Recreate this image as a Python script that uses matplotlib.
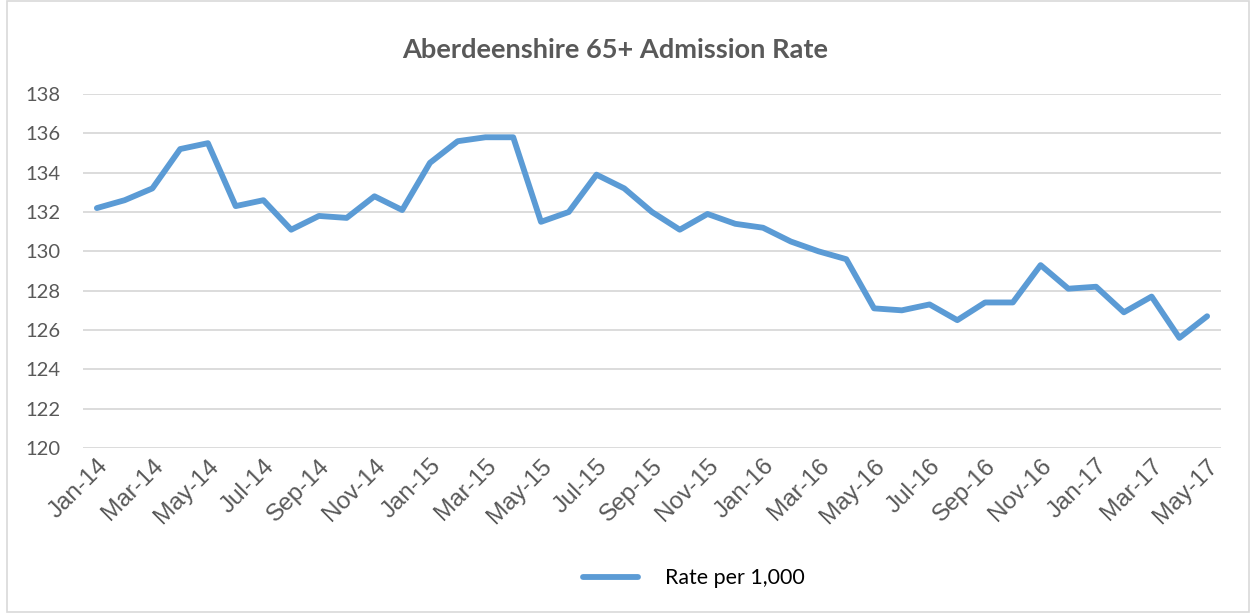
import matplotlib.pyplot as plt
from matplotlib.patches import Rectangle

# monthly admission rate, Jan-14 .. May-17
months = ["Jan", "Feb", "Mar", "Apr", "May", "Jun", "Jul", "Aug", "Sep", "Oct", "Nov", "Dec"]
labels = [f"{m}-{y}" for y in ["14", "15", "16", "17"] for m in months][:41]
rate = [132.2, 132.6, 133.2, 135.2, 135.5, 132.3, 132.6, 131.1, 131.8, 131.7, 132.8, 132.1,
        134.5, 135.6, 135.8, 135.8, 131.5, 132.0, 133.9, 133.2, 132.0, 131.1, 131.9, 131.4,
        131.2, 130.5, 130.0, 129.6, 127.1, 127.0, 127.3, 126.5, 127.4, 127.4, 129.3, 128.1,
        128.2, 126.9, 127.7, 125.6, 126.7]

grey = "#595959"
blue = "#5B9BD5"

fig = plt.figure(figsize=(12.55, 6.13), dpi=100)
ax = fig.add_axes([83 / 1255, 1 - 448 / 613, (1221 - 83) / 1255, (448 - 94) / 613])

x = list(range(len(rate)))
ax.plot(x, rate, color=blue, lw=4.2, solid_joinstyle="round", solid_capstyle="round",
        label="Rate per 1,000")

ax.set_xlim(-0.5, len(rate) - 0.5)
ax.set_ylim(120, 138)
ax.set_yticks(range(120, 139, 2))
ax.set_xticks(x[::2])
ax.set_xticklabels(labels[::2], rotation=45, ha="right", rotation_mode="anchor",
                   fontsize=17.5, color=grey, family="Liberation Sans")
for t in ax.get_yticklabels():
    t.set_fontsize(14.5)
    t.set_color(grey)
    t.set_family("Lato")

ax.grid(axis="y", color="#D9D9D9", lw=1.3)
ax.set_axisbelow(True)
for s in ax.spines.values():
    s.set_visible(False)
ax.tick_params(length=0, axis="y", pad=16.5)
ax.tick_params(length=0, axis="x", pad=5)

fig.text(615 / 1255, 1 - 50 / 613, "Aberdeenshire 65+ Admission Rate", ha="center", va="center",
         fontsize=19.6, fontweight="bold", color=grey, family="Lato")

leg = fig.legend(loc="center", bbox_to_anchor=(694 / 1255, 1 - 578 / 613), frameon=False,
                 handlelength=2.57, handletextpad=1.26, prop={"family": "Lato", "size": 15.4})

fig.patches.append(Rectangle((7 / 1255, 0.002), 1242 / 1255, 0.996, transform=fig.transFigure,
                             fill=False, edgecolor="#D9D9D9", lw=1.2))

fig.savefig("out.png", dpi=100)
plt.close()
